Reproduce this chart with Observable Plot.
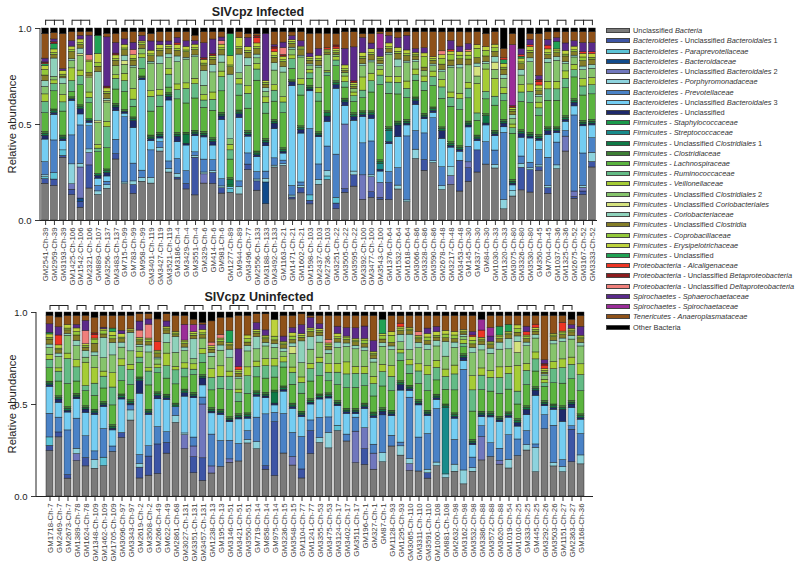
<!DOCTYPE html>
<html><head><meta charset="utf-8">
<script src="https://cdn.jsdelivr.net/npm/d3@7"></script>
<script src="https://cdn.jsdelivr.net/npm/@observablehq/plot@0.6"></script>
<style>
body{margin:0;background:#fff;font-family:"Liberation Sans",Arial,sans-serif;}
#wrap{position:relative;width:800px;height:566px;overflow:hidden;background:#fff;}
.panel{position:absolute;left:0;}
.panel svg g[aria-label^="y-axis"] text{font-size:9.5px;fill:#222;}
.title{position:absolute;font-weight:bold;font-size:12.5px;color:#222;white-space:nowrap;transform:translate(-50%,-50%);}
.ylab{position:absolute;font-size:11.2px;color:#222;white-space:nowrap;transform:translate(-50%,-50%) rotate(-90deg);}
#legend{position:absolute;left:606px;top:25.6px;font-size:7.4px;color:#333;}
.li{height:10.23px;display:flex;align-items:center;white-space:nowrap;}
.sw{width:24px;height:5px;margin-right:3px;border:0.5px solid #444;box-sizing:border-box;}
</style></head>
<body>
<div id="wrap"></div>
<script>
const categories = [
"Unclassified Bacteria",
"Bacteroidetes - Unclassified Bacteroidales 1",
"Bacteroidetes - Paraprevotellaceae",
"Bacteroidetes - Bacteroidaceae",
"Bacteroidetes - Unclassified Bacteroidales 2",
"Bacteroidetes - Porphyromonadaceae",
"Bacteroidetes - Prevotellaceae",
"Bacteroidetes - Unclassified Bacteroidales 3",
"Bacteroidetes - Unclassified",
"Firmicutes - Staphylococcaceae",
"Firmicutes - Streptococcaceae",
"Firmicutes - Unclassified Clostridiales 1",
"Firmicutes - Clostridiaceae",
"Firmicutes - Lachnospiraceae",
"Firmicutes - Ruminococcaceae",
"Firmicutes - Veillonellaceae",
"Firmicutes - Unclassified Clostridiales 2",
"Firmicutes - Unclassified Coriobacteriales",
"Firmicutes - Coriobacteriaceae",
"Firmicutes - Unclassified Clostridia",
"Firmicutes - Coprobacillaceae",
"Firmicutes - Erysipelotrichaceae",
"Firmicutes - Unclassified",
"Proteobacteria - Alcaligenaceae",
"Proteobacteria - Unclassified Betaproteobacteria",
"Proteobacteria - Unclassified Deltaproteobacteria",
"Spirochaetes - Sphaerochaetaceae",
"Spirochaetes - Spirochaetaceae",
"Tenericutes - Anaeroplasmataceae",
"Other Bacteria"];

const colors = ["#7a7a7a","#3d55a5","#5cc3d6","#114b8c","#7077bd","#8dd3de","#4a82c6","#74cdf2","#1e2a6b",
"#1a9a4c","#188b8b","#0f7a47","#3e7f35","#5bb43f","#63bb85","#a5cc35","#86c46c","#d5e27e","#8ed2bb","#857e27","#93c83a","#bdd23c","#21a254",
"#ed3524","#8c1c1e","#ef7f7b","#5a2a8a","#9a2c98","#8e5119","#000000"];

const infectedSamples = ["GM2541-Ch-39","GM2959-Ch-39","GM3193-Ch-39","GM1425-Ch-106","GM1542-Ch-106","GM2321-Ch-106","GM889-Ch-107","GM3256-Ch-137","GM3483-Ch-137","GM715-Ch-99","GM783-Ch-99","GM958-Ch-99","GM3401-Ch-119","GM3427-Ch-119","GM3521-Ch-119","GM3186-Ch-4","GM3429-Ch-4","GM3551-Ch-4","GM329-Ch-6","GM414-Ch-6","GM981-Ch-6","GM1277-Ch-89","GM944-Ch-89","GM3496-Ch-77","GM2556-Ch-133","GM3188-Ch-133","GM3492-Ch-133","GM1163-Ch-21","GM1471-Ch-21","GM1602-Ch-21","GM1598-Ch-103","GM2437-Ch-103","GM2736-Ch-103","GM3251-Ch-22","GM3505-Ch-22","GM3595-Ch-22","GM3392-Ch-100","GM3477-Ch-100","GM3543-Ch-100","GM1376-Ch-64","GM1532-Ch-64","GM1618-Ch-64","GM3066-Ch-86","GM3328-Ch-86","GM3590-Ch-86","GM2678-Ch-48","GM3217-Ch-48","GM3453-Ch-48","GM145-Ch-30","GM337-Ch-30","GM84-Ch-30","GM1030-Ch-33","GM1320-Ch-33","GM3075-Ch-80","GM3326-Ch-80","GM3530-Ch-80","GM350-Ch-45","GM704-Ch-45","GM1037-Ch-36","GM1325-Ch-36","GM2675-Ch-52","GM3167-Ch-52","GM3333-Ch-52"];

// percent per category (legend order), one row per infected sample
const infectedValues = [
[19.5,2.5,1,0,0,1,7,12,2, 0,0,1,1,10,6,4,4,0,3,3,3,2,1, 0.5,0.5,0,2,0,13,3],
[19,3.5,3.5,0,0,0,18,14,1, 0,0,1,1,10,4,2,2,0,10,2,1,2,3, 0,1,0,1.5,0,3.5,2.5],
[34,1,3,0,0,0,0,5,1, 0,0,1,1,13,5,4,6,0,3,1,1,2,0, 0,0,0,1,0,19,3],
[14,3,0,0,3,11,16,19,1, 0,0,0,1,3,6,7,4,0,1,4,1,2,0, 0,0,0,3,0,5,2],
[7,3,0,2,17,2,21,6,3, 0,0,1,1,11,5,3,8,1,3,2,1,2,0, 0,0,0,2,0,2,2],
[18,13,0,0,7,2,13,2,1, 0,0,1,0,9,3,3,8,1,0,2,6,1,0, 0,0,3,11,0,2,2],
[14,0,0,0,0,2,3,4,1.5, 0,0,1,0,12,2,2,12,1,27,3,2,5,10, 0,0,0,0,0,0,4],
[18,0,0,0,0,2,2,3,2, 0,0,1,1,12,12,3,11,1,1,3,1,2,0, 0,1,0,28,0,2,3],
[34,3,0,0,0,0,8,16,2, 0,0,1,1,8,6,2,5,0,0,3,1,2,0, 0,1,0,6,0,5,3],
[20,0,0,0,0,1,36,2,1, 0,0,0,1,10,6,4,5,2,3,3,1,2,0, 0,0,0,3,0,4,2],
[15,5,0,0,0,2,10,20,4, 0,0,1,1,6,4,6,12,0,1,3,1,2,0, 0,0,3,4,0,6,2],
[21,0,0,0,0,2,4,49,1, 0,0,0,1,4,6,2,3,0,0,2,1,1,0, 0,0,0,3,0,2,2],
[20,0,0,0,0,3,15,5,1, 0,0,1,1,13,8,3,15,0,1,3,1,2,0, 0,0,0,5,0,4,3],
[37,0,0,0,0,2,3,2,1, 0,0,1,1,14,6,3,14,0,4,3,1,2,0, 0,0,0,2,0,5,2],
[26,0,0,0,0,2,4,33,2, 0,0,1,1,3,7,3,6,0,2,3,1,1,0, 0,0,0,2,0,5,2],
[22,1,0,0,0,2,8,9,3, 0,0,1,1,18,5,3,12,0,3,3,1,2,0, 1,0,0,3,0,3,2],
[17,3,0,0,0,0,7,14,1, 0,0,5,1,16,8,3,13,0,1,3,1,2,0, 0,0,0,3,0,5,2],
[14,21,0,0,0,1,2,9,1, 0,0,1,1,18,8,3,12,0,1,3,1,2,0, 0,0,0,2,0,3,4],
[20,0,0,0,5,1,7,12,1, 0,0,1,1,13,4,3,5,0,8,3,1,2,0, 0,1,0,8,0,6,2],
[20,6,0,0,0,1,6,8,2, 0,0,1,1,15,6,4,11,0,4,3,1,1,0, 0,1,0,8,0,4,2],
[15,3,0,0,0,1,4,33,2, 0,0,1,1,12,8,3,5,0,4,3,1,2,0, 0,0,2,2,0,3,2],
[15,0,2,0,0,0,0,1,0, 1,0,3,1,10,5,3,3,0,35,4,1,5,12, 0,0,0,0,0,0,3],
[14,0,0,0,0,4,3,34,2, 0,0,1,1,8,6,3,3,0,10,3,1,5,0, 0,0,0,0,0,3,2],
[27,3,0,0,0,0,6,9,1, 0,0,1,1,12,8,4,11,0,4,3,1,2,0, 0,0,0,5,0,2,3],
[16,5,0,0,0,1,4,8,1, 0,0,1,1,38,6,3,3,0,2,3,1,2,0, 3,1,0,0,0,1,3],
[9,0,0,12,0,2,4,14,2, 0,0,1,1,14,6,3,3,0,2,2,1,1,0, 0,0,0,26,0,0,3],
[29,0,0,0,0,1,4,16,3, 0,0,1,1,10,6,3,8,0,4,3,1,2,0, 2,1,0,1,0,7,2],
[31,0,0,0,0,1,2,4,1, 0,0,1,1,20,6,3,14,0,3,3,1,2,0, 0,1,4,3,0,6,2],
[11,1,0,0,0,1,5,52,2, 0,0,0,1,6,5,2,3,0,1,2,1,1,0, 0,0,0,2,0,2,2],
[15,3,0,0,0,1,2,27,2, 0,0,1,1,17,6,3,12,0,1,3,1,1,0, 0,0,0,3,0,5,2],
[9,2,3,0,0,0,37,21,1, 0,0,1,1,4,3,2,2,0,1,2,1,1,0, 0,0,0,2,0,11,3],
[21,0,0,0,0,3,9,16,1, 0,0,1,1,18,5,3,12,0,1,3,1,2,0, 0,0,0,4,0,9,3],
[23,0,2,0,0,3,14,14,3, 0,0,2,1,20,2,1,9,0,0,1,1,1,0, 1,0,0,0,0,8,3],
[6,3,3,0,0,0,23,35,2, 0,0,1,1,8,3,2,1,0,0,1,1,1,0, 1,1,0,0,0,6,3],
[15,2,0,0,35,0,0,10,2, 0,0,1,1,6,3,3,2,0,0,1,1,2,0, 0,0,0,9,0,9,2],
[18,6,0,0,0,2,0,27,2, 0,0,1,1,6,3,2,2,0,0,1,1,1,0, 0,1,0,18,0,8,2],
[11,0,0,0,13,0,17,14,1, 0,0,1,1,7,4,7,6,0,1,3,1,2,0, 0,0,0,8,0,2,3],
[12,3,0,0,8,1,18,12,2, 0,0,1,1,10,6,4,6,0,1,3,1,2,0, 0,0,0,3,0,5,3],
[11,1,0,0,8,0,0,6,1, 0,3,1,1,40,5,3,2,0,1,2,1,1,0, 0,0,0,4,8,1,2],
[11,9,0,0,0,0,6,15,1, 0,6,1,1,18,6,3,12,0,1,2,1,2,0, 0,0,0,4,0,2,2],
[16,0,0,0,0,2,9,16,6, 0,0,1,1,14,6,3,5,0,4,3,1,2,0, 0,0,0,5,0,3,2],
[10,0,0,0,0,1,35,6,1, 0,0,1,1,12,5,4,10,0,1,3,1,2,0, 0,0,0,8,0,2,2],
[33,0,0,0,0,5,10,14,2, 0,0,1,1,9,3,3,4,0,1,2,1,1,0, 0,0,0,2,0,9,2],
[28,6,0,0,0,0,15,8,1, 0,0,1,1,13,5,3,3,0,0,2,6,2,0, 0,0,0,3,0,9,2],
[32,0,0,0,0,1,24,3,1, 0,0,1,1,12,5,3,3,0,1,2,1,1,0, 0,0,0,0,0,14,2],
[16,0,0,0,0,2,10,15,4, 0,0,1,1,15,6,4,4,0,1,3,3,2,0, 0,0,2,0,0,10,2],
[20,0,0,0,5,5,0,11,1, 0,0,1,1,20,5,3,14,0,1,3,3,2,0, 1,0,0,5,0,5,2],
[16,17,0,0,0,0,0,5,1, 0,0,1,1,20,6,3,14,0,2,3,2,2,0, 0,0,0,3,0,8,2],
[20,7,0,0,3,0,8,10,1, 0,0,1,1,12,5,3,9,0,0,3,2,2,0, 0,0,1,3,0,6,2],
[26,12,0,0,0,0,0,5,1, 0,0,1,1,8,4,16,4,5,2,3,5,2,0, 0,0,0,0,0,7,2],
[30,0,0,0,0,0,12,9,1, 0,0,4,1,8,4,12,3,0,1,3,3,2,0, 0,0,0,0,0,7,3],
[29,0,0,0,0,2,8,8,1, 0,0,1,1,14,5,10,5,4,3,3,2,2,0, 0,0,0,0,0,7,2],
[6,0,0,0,0,5,36,3,2, 0,0,1,1,10,4,3,5,0,2,3,1,2,2, 1,0,0,0,0,5,11],
[13,0,0,0,0,3,0,3,1, 0,0,1,1,25,3,2,3,0,2,2,1,1,0, 0,1,0,0,33,6,3],
[16,12,0,0,0,2,4,10,2, 0,0,1,1,15,5,4,5,0,3,3,1,2,1, 1,0,0,3,0,0,11],
[15,12,0,0,0,1,3,13,1, 0,0,1,1,16,6,4,12,0,2,3,1,2,0, 1,0,0,3,0,3,3],
[26,2,0,0,0,1,8,5,1, 0,0,1,1,10,4,3,3,0,1,2,1,2,0, 2,1,0,2,0,22,3],
[14,3,0,0,0,1,15,12,2, 0,0,1,1,14,6,4,10,0,2,2,1,2,0, 2,0,0,3,0,4,2],
[27,0,0,0,0,2,12,5,1, 0,0,1,1,14,6,4,11,0,2,2,1,1,4, 0,0,0,2,0,3,2],
[37,0,0,0,8,0,3,5,1, 0,0,1,1,15,5,4,4,0,1,3,1,2,0, 0,0,0,4,0,6,2],
[12,1,0,0,3,0,42,5,2, 0,0,1,1,12,4,3,4,0,1,2,1,2,0, 0,0,0,3,0,5,2],
[14,2,0,0,2,1,18,15,1, 0,0,1,1,14,5,4,5,0,2,3,2,2,0, 1,0,0,5,0,6,2],
[29,3,0,0,0,5,8,7,1, 0,0,1,1,14,5,4,5,0,2,3,1,2,0, 1,0,0,5,0,6,2]];

const uninfectedSamples = ["GM1718-Ch-7","GM2469-Ch-7","GM2673-Ch-7","GM1389-Ch-78","GM1624-Ch-78","GM1348-Ch-109","GM1462-Ch-109","GM1705-Ch-109","GM3096-Ch-97","GM3343-Ch-97","GM2619-Ch-2","GM3508-Ch-2","GM266-Ch-49","GM622-Ch-49","GM2861-Ch-68","GM3027-Ch-131","GM3351-Ch-131","GM3457-Ch-131","GM1238-Ch-13","GM195-Ch-13","GM3146-Ch-51","GM3421-Ch-51","GM3550-Ch-51","GM719-Ch-14","GM858-Ch-14","GM975-Ch-14","GM3236-Ch-15","GM3548-Ch-15","GM1104-Ch-77","GM1241-Ch-77","GM3355-Ch-53","GM3475-Ch-53","GM3124-Ch-17","GM3402-Ch-17","GM3511-Ch-17","GM196-Ch-1","GM327-Ch-1","GM87-Ch-1","GM1128-Ch-93","GM1295-Ch-93","GM3065-Ch-110","GM3311-Ch-110","GM3591-Ch-110","GM1000-Ch-108","GM881-Ch-108","GM2632-Ch-98","GM3162-Ch-98","GM3532-Ch-98","GM3386-Ch-88","GM3572-Ch-88","GM3620-Ch-88","GM1019-Ch-54","GM1010-Ch-25","GM333-Ch-25","GM445-Ch-25","GM3292-Ch-26","GM3503-Ch-26","GM1151-Ch-27","GM2363-Ch-27","GM168-Ch-36"];

const uninfectedValues = [
[27,3,5,0,0,0,14,16,1, 0,0,1,1,8,5,3,4,0,2,3,1,2,1, 0,0,0,5,0,5,2],
[36,3,0,0,0,0,9,9,2, 0,0,1,1,9,6,2,7,0,2,2,1,2,0, 6,0,0,5,0,6,3],
[10,2,0,0,0,0,25,10,1, 0,0,1,1,13,14,3,10,0,1,2,1,2,0, 0,0,0,0,0,5,2],
[20,0,0,0,4,3,17,11,1, 0,0,1,1,7,8,4,8,0,3,3,2,2,0, 0,0,0,2,0,5,2],
[18,5,0,0,0,0,13,14,2, 0,0,1,1,9,3,14,3,0,4,2,1,1,0, 0,0,8,6,0,3,2],
[16,0,0,0,0,5,5,21,1, 0,0,1,1,8,7,9,7,0,2,5,2,1,0, 2,1,0,0,0,9,3],
[18,0,5,0,0,0,17,13,1, 0,0,1,1,8,7,3,8,0,12,2,2,1,0, 0,0,0,1,0,7,2],
[25,0,0,0,0,0,3,9,1, 0,0,1,1,11,10,8,10,0,7,2,2,2,2, 0,0,0,0,0,7,2],
[35,3,0,0,0,0,0,20,1, 0,0,1,1,8,9,4,7,0,3,2,1,2,0, 0,0,0,2,0,9,2],
[45,0,0,0,0,6,3,0,1, 0,0,1,1,9,9,3,8,0,11,1,0,1,0, 0,0,0,0,0,8,2],
[10,6,0,0,0,2,5,34,7, 0,0,1,1,8,3,3,3,0,1,2,1,1,0, 0,0,4,5,0,4,1],
[12,11,0,0,0,0,6,18,1, 0,0,1,1,14,8,2,9,0,4,2,1,1,0, 0,0,8,3,0,3,1],
[13,17,0,0,0,0,10,16,2, 0,0,1,1,11,3,2,3,0,1,2,1,1,0, 5,0,0,0,0,13,4],
[24,6,0,0,0,0,6,18,1, 0,0,1,1,9,7,7,6,0,5,2,1,1,0, 0,0,0,3,0,4,1],
[42,0,0,0,0,4,5,0,0, 0,0,1,1,11,8,2,8,0,9,1,1,1,0, 0,0,0,0,0,9,2],
[27,0,0,0,8,1,0,21,2, 0,0,1,1,7,5,3,7,0,2,2,1,1,0, 0,0,0,0,9,5,2],
[13,9,0,0,6,0,5,22,1, 0,0,1,1,10,3,3,3,0,11,2,1,1,0, 0,0,0,0,4,3,4],
[9,13,0,0,31,0,4,7,4, 0,0,1,1,7,5,3,6,0,0,2,1,2,0, 0,0,0,3,0,1,6],
[13,0,0,0,4,0,18,12,1, 0,0,1,1,10,7,5,7,0,2,2,1,1,0, 0,0,2,0,0,12,5],
[17,0,0,0,0,0,15,15,1, 0,0,1,1,12,7,6,9,0,3,2,1,1,0, 0,0,2,0,0,10,3],
[20,0,0,0,2,0,11,11,1, 0,0,1,1,16,8,3,8,0,5,2,1,1,7, 0,0,0,0,0,8,3],
[20,0,0,0,0,0,10,14,1, 0,0,1,1,7,5,2,6,0,1,2,1,1,0, 2,0,0,10,0,19,2],
[30,0,0,0,0,2,5,7,1, 0,0,1,1,11,10,5,9,0,3,2,2,2,0, 0,0,0,0,0,11,2],
[27,0,0,0,0,4,14,12,1, 0,0,1,1,8,6,3,7,0,7,2,1,1,0, 0,0,0,4,0,5,1],
[15,2,0,0,0,0,29,9,1, 0,0,1,1,8,7,4,7,0,2,2,1,1,0, 0,0,0,3,0,9,1],
[11,29,0,0,0,0,5,4,1, 0,0,6,1,7,6,4,6,0,2,2,2,9,0, 0,0,0,0,0,0,4],
[25,0,0,0,0,0,23,13,1, 0,0,1,1,11,3,3,3,0,2,2,1,1,0, 0,0,0,3,0,12,2],
[18,0,0,0,5,0,14,14,1, 0,0,1,1,11,7,3,8,4,2,2,2,2,0, 0,0,0,3,0,7,2],
[10,5,0,0,0,0,18,11,1, 0,0,1,1,10,6,3,8,0,12,2,1,1,0, 0,0,0,5,0,6,1],
[24,13,0,0,0,0,6,9,1, 0,0,1,1,10,7,3,8,0,7,3,1,1,0, 0,0,0,6,0,1,2],
[32,0,0,0,0,3,12,11,1, 0,0,1,1,11,8,3,9,0,4,2,1,1,0, 0,0,0,3,0,5,2],
[28,0,0,0,0,9,9,11,1, 0,0,1,1,7,5,5,6,0,2,2,1,1,0, 0,0,2,0,0,14,2],
[37,0,3,0,0,0,0,11,1, 0,0,1,1,9,7,5,9,0,3,2,1,2,0, 0,0,0,4,0,6,2],
[32,0,0,0,0,0,4,12,1, 0,0,1,1,12,8,7,9,0,2,2,1,1,0, 0,0,0,5,0,7,2],
[19,0,0,0,18,0,8,2,1, 0,0,1,1,12,8,4,10,0,2,2,1,1,0, 0,0,0,6,0,7,2],
[18,9,0,0,12,0,0,11,1, 0,0,1,1,10,7,4,9,0,2,2,2,1,0, 0,0,0,7,0,6,2],
[15,0,0,0,9,0,5,15,1, 0,0,1,1,9,7,4,8,0,2,2,1,1,0, 0,0,0,6,0,14,2],
[19,0,0,0,0,5,21,0,2, 0,0,1,1,12,8,4,10,0,2,2,2,1,8, 0,0,0,0,0,0,4],
[28,0,0,0,0,0,6,11,1, 0,0,1,1,11,8,6,9,0,2,2,4,2,0, 0,0,0,0,0,9,2],
[22,0,0,0,0,5,2,28,3, 0,0,1,1,11,4,2,4,0,4,2,1,1,0, 2,0,0,0,0,4,2],
[15,0,0,0,4,3,36,4,1, 0,0,1,1,7,5,3,6,0,9,2,1,1,0, 0,0,0,0,0,7,2],
[14,0,0,0,0,0,19,18,1, 0,0,1,1,9,7,4,9,0,3,2,1,1,0, 0,0,2,0,0,9,2],
[10,3,0,0,0,2,20,10,1, 0,0,1,1,11,9,5,9,0,3,2,2,2,0, 0,0,0,3,0,7,2],
[17,0,0,0,0,2,30,5,1, 0,0,1,1,8,7,4,8,0,3,2,1,2,0, 0,0,0,3,0,6,2],
[10,0,0,0,0,2,0,0,0, 0,36,1,1,8,7,4,7,0,8,2,2,2,0, 0,0,0,0,0,8,2],
[14,0,0,0,0,4,14,12,1, 0,0,1,1,13,9,5,10,0,3,2,2,2,0, 0,0,0,0,0,9,2],
[7,0,0,0,0,8,58,5,2, 0,0,1,1,4,2,2,2,0,1,1,1,1,0, 0,0,0,0,0,8,2],
[14,0,0,0,0,2,6,7,1, 0,0,1,1,16,12,8,13,0,3,2,2,2,0, 1,0,0,2,0,9,2],
[20,0,0,0,13,0,6,5,1, 0,0,1,1,12,8,4,10,0,3,2,1,1,0, 4,0,0,0,6,0,4],
[23,0,0,0,0,0,8,15,1, 0,0,1,1,12,8,4,10,0,3,2,1,1,0, 0,0,0,3,5,7,2],
[18,0,0,0,2,0,7,15,1, 0,0,1,1,13,9,6,10,0,4,2,1,1,5, 0,0,0,0,0,6,2],
[16,0,0,0,0,5,14,10,1, 0,0,1,1,13,9,4,10,0,6,2,1,1,4, 0,0,0,0,0,5,2],
[22,0,0,0,0,0,9,7,2, 0,0,1,1,8,7,14,7,6,3,2,2,2,0, 0,0,0,0,0,5,2],
[26,0,0,0,0,3,8,9,3, 0,0,1,1,12,8,4,10,0,2,2,1,1,0, 2,0,0,3,0,6,2],
[14,0,0,0,0,14,2,28,3, 0,0,1,1,9,7,4,8,0,2,2,1,1,0, 2,0,0,0,0,5,2],
[38,0,0,0,0,0,8,5,1, 0,0,1,1,8,2,2,2,0,1,1,1,1,0, 2,1,0,2,0,25,2],
[17,0,0,0,0,2,21,9,1, 0,0,1,1,12,8,4,10,0,2,2,1,1,0, 0,0,0,0,0,10,2],
[14,0,0,0,0,3,4,22,7, 0,0,1,1,13,9,5,10,0,2,2,1,1,0, 5,0,0,0,0,4,2],
[19,18,0,0,0,0,2,10,2, 0,0,1,1,12,8,4,10,0,2,2,1,1,0, 0,0,0,2,0,3,4],
[18,0,0,0,0,5,12,8,1, 0,0,1,1,13,9,6,10,0,2,2,1,1,0, 0,0,0,5,0,6,2]];

const yTicks = [0, 0.5, 1];
const panelTitles = ["SIVcpz Infected", "SIVcpz Uninfected"];
const yLabel = "Relative abundance";

function groupsOf(samples) {
  const out = []; let cur = null;
  samples.forEach(s => {
    const ch = s.slice(s.indexOf("-") + 1);
    if (cur && cur.ch === ch) cur.m.push(s); else { cur = {ch, m: [s]}; out.push(cur); }
  });
  return out.filter(g => g.m.length > 1).map(g => g.m);
}

function panel(samples, rows, o) {
  const data = [];
  samples.forEach((s, i) => rows[i].forEach((v, j) => { if (v > 0) data.push({sample: s, cat: categories[j], value: v}); }));
  const gs = groupsOf(samples);
  const plot = Plot.plot({
    width: 600, height: o.height,
    marginLeft: o.ml, marginRight: o.mr, marginTop: o.mt, marginBottom: o.mb,
    style: {fontFamily: "Liberation Sans, Arial, sans-serif", fontSize: "7.8px", color: "#3a3a3a", background: "transparent", overflow: "visible"},
    x: {domain: samples, paddingInner: 0.24, paddingOuter: o.po, tickRotate: -90, tickSize: 5, tickPadding: 2, label: null},
    y: {domain: [0, 1], ticks: yTicks, tickFormat: d3.format(".1f"), tickSize: 5, label: null},
    color: {domain: categories, range: colors},
    marks: [
      Plot.barY(data, {x: "sample", y: "value", fill: "cat", order: categories, offset: "normalize", stroke: "#1c1c1c", strokeWidth: 0.45}),
      Plot.ruleY([0], {stroke: "#222"}),
      Plot.link(gs, {x1: g => g[0], x2: g => g[g.length - 1], y1: o.bTop, y2: o.bTop, stroke: "#222", strokeWidth: 1}),
      Plot.ruleX(gs.flat(), {x: d => d, y1: o.bBot, y2: o.bTop, stroke: "#222", strokeWidth: 1})
    ]
  });
  const ys = plot.scale("y");
  d3.select(plot).append("line")
    .attr("x1", o.ml).attr("x2", o.ml)
    .attr("y1", ys.apply(0)).attr("y2", ys.apply(1))
    .attr("stroke", "#222");
  const div = document.createElement("div");
  div.className = "panel";
  div.style.top = o.top + "px";
  div.appendChild(plot);
  return div;
}

const wrap = document.getElementById("wrap");
wrap.appendChild(panel(infectedSamples, infectedValues, {top: 0, height: 292, ml: 40, mr: 3, mt: 28, mb: 72, po: 0.2, bTop: 1.043, bBot: 1.015}));
wrap.appendChild(panel(uninfectedSamples, uninfectedValues, {top: 283, height: 283, ml: 36, mr: 7, mt: 29, mb: 70, po: 0.7, bTop: 1.038, bBot: 1.011}));

function addText(cls, txt, x, y) {
  const d = document.createElement("div");
  d.className = cls; d.textContent = txt;
  d.style.left = x + "px"; d.style.top = y + "px";
  wrap.appendChild(d);
}
addText("title", panelTitles[0], 258, 12);
addText("title", panelTitles[1], 259, 297);
addText("ylab", yLabel, 12, 124);
addText("ylab", yLabel, 12, 404);

// legend
const leg = document.createElement("div");
leg.id = "legend";
categories.forEach((c, i) => {
  const row = document.createElement("div");
  row.className = "li";
  const sw = document.createElement("div");
  sw.className = "sw"; sw.style.background = colors[i];
  row.appendChild(sw);
  const t = document.createElement("span");
  if (c === "Other Bacteria") t.textContent = c;
  else {
    c.split(" ").forEach((w, k) => {
      if (k > 0) t.appendChild(document.createTextNode(" "));
      if (w === "-" || w === "Unclassified" || /^\d+$/.test(w)) t.appendChild(document.createTextNode(w));
      else { const it = document.createElement("i"); it.textContent = w; t.appendChild(it); }
    });
  }
  row.appendChild(t);
  leg.appendChild(row);
});
wrap.appendChild(leg);
</script>
</body></html>
